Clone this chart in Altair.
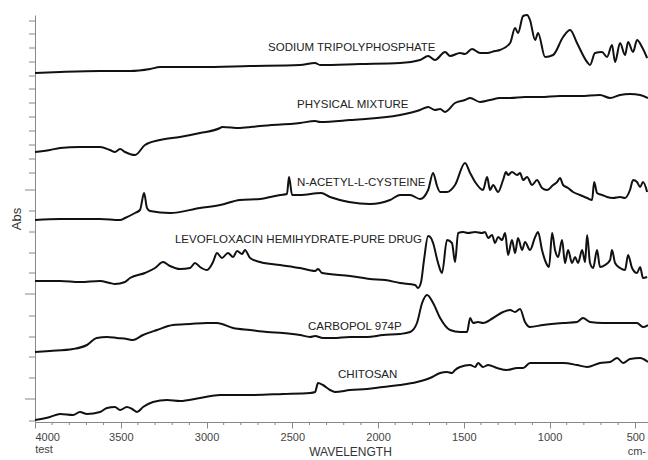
import altair as alt
import pandas as pd

# ---- data (wavenumber cm-1, stacked absorbance, arbitrary units) ----
stpp_wn = [4000, 3854, 3621, 3446, 3329, 3271, 3038, 2746, 2455, 2367, 2338, 2105, 1872, 1755, 1708, 1668,
           1609, 1580, 1522, 1493, 1452, 1405, 1364, 1318, 1289, 1230, 1201, 1184, 1154, 1131, 1114, 1084,
           1067, 1026, 979, 921, 880, 840, 781, 764, 735, 694, 665, 636, 618, 589, 560, 542, 513, 490, 461, 431]
stpp_abs = [3.49, 3.50, 3.51, 3.51, 3.53, 3.55, 3.55, 3.56, 3.57, 3.59, 3.57, 3.58, 3.59, 3.62, 3.66, 3.62,
            3.70, 3.66, 3.69, 3.68, 3.73, 3.69, 3.69, 3.71, 3.72, 3.79, 3.94, 3.89, 4.06, 4.07, 4.02, 3.82,
            3.89, 3.65, 3.67, 3.85, 3.92, 3.79, 3.60, 3.57, 3.69, 3.70, 3.65, 3.77, 3.60, 3.79, 3.67, 3.80,
            3.70, 3.82, 3.75, 3.64]

pm_wn = [4000, 3913, 3854, 3738, 3621, 3563, 3534, 3504, 3475, 3417, 3359, 3271, 3155, 3038, 2921, 2910,
         2805, 2688, 2455, 2367, 2338, 2163, 1872, 1755, 1708, 1668, 1638, 1609, 1551, 1493, 1463, 1405,
         1347, 1289, 1230, 1143, 1055, 939, 822, 706, 647, 589, 531, 472, 426]
pm_abs = [2.70, 2.72, 2.74, 2.75, 2.75, 2.72, 2.70, 2.73, 2.70, 2.67, 2.77, 2.82, 2.85, 2.89, 2.94, 2.95,
          2.94, 2.96, 2.99, 3.01, 3.00, 3.02, 3.07, 3.12, 3.15, 3.12, 3.13, 3.10, 3.19, 3.22, 3.24, 3.20,
          3.22, 3.24, 3.24, 3.25, 3.25, 3.26, 3.26, 3.27, 3.24, 3.27, 3.28, 3.27, 3.24]

nac_wn = [4000, 3854, 3621, 3504, 3475, 3417, 3388, 3364, 3347, 3329, 3213, 3038, 2921, 2805, 2688, 2571,
          2531, 2519, 2501, 2455, 2332, 2280, 2047, 1930, 1872, 1813, 1755, 1708, 1679, 1656, 1638, 1598,
          1551, 1493, 1463, 1434, 1388, 1364, 1347, 1329, 1300, 1271, 1254, 1242, 1219, 1189, 1172, 1154,
          1131, 1102, 1073, 1044, 1015, 979, 956, 939, 921, 892, 863, 822, 781, 752, 740, 723, 694, 665,
          630, 589, 560, 531, 513, 490, 472, 455, 431]
nac_abs = [2.02, 2.03, 2.03, 2.02, 2.04, 2.09, 2.12, 2.29, 2.14, 2.11, 2.09, 2.14, 2.17, 2.22, 2.23, 2.27,
           2.28, 2.45, 2.27, 2.27, 2.29, 2.25, 2.18, 2.22, 2.27, 2.27, 2.23, 2.32, 2.49, 2.36, 2.30, 2.30,
           2.37, 2.59, 2.49, 2.40, 2.32, 2.45, 2.32, 2.37, 2.30, 2.42, 2.50, 2.47, 2.50, 2.47, 2.49, 2.42,
           2.45, 2.37, 2.42, 2.34, 2.32, 2.37, 2.40, 2.44, 2.37, 2.34, 2.30, 2.27, 2.24, 2.22, 2.40, 2.29,
           2.27, 2.25, 2.24, 2.25, 2.24, 2.32, 2.42, 2.40, 2.35, 2.40, 2.30]

levo_wn = [4000, 3854, 3738, 3621, 3563, 3534, 3475, 3446, 3359, 3300, 3254, 3213, 3155, 3096, 3067, 3038,
           2997, 2962, 2939, 2910, 2875, 2845, 2822, 2793, 2776, 2746, 2688, 2571, 2455, 2367, 2350, 2326,
           2163, 2047, 1959, 1872, 1784, 1767, 1749, 1732, 1708, 1691, 1679, 1650, 1627, 1598, 1569, 1551,
           1533, 1504, 1475, 1434, 1394, 1376, 1358, 1335, 1318, 1300, 1277, 1259, 1242, 1219, 1201, 1184,
           1160, 1143, 1114, 1084, 1067, 1044, 1020, 1003, 985, 968, 950, 927, 910, 892, 869, 851, 834, 810,
           793, 781, 764, 746, 723, 706, 676, 647, 636, 618, 589, 560, 542, 519, 490, 472, 455, 431]
levo_abs = [1.41, 1.41, 1.40, 1.41, 1.39, 1.38, 1.40, 1.44, 1.49, 1.54, 1.60, 1.56, 1.53, 1.54, 1.59, 1.55,
            1.52, 1.60, 1.69, 1.64, 1.69, 1.65, 1.71, 1.68, 1.72, 1.64, 1.60, 1.57, 1.54, 1.51, 1.53, 1.49,
            1.46, 1.43, 1.42, 1.39, 1.37, 1.34, 1.40, 1.62, 1.86, 1.84, 1.79, 1.59, 1.49, 1.82, 1.79, 1.60,
            1.89, 1.90, 1.89, 1.90, 1.89, 1.90, 1.84, 1.87, 1.79, 1.85, 1.82, 1.89, 1.67, 1.82, 1.69, 1.84,
            1.72, 1.80, 1.72, 1.85, 1.90, 1.72, 1.59, 1.55, 1.89, 1.72, 1.65, 1.82, 1.59, 1.72, 1.59, 1.65,
            1.59, 1.72, 1.60, 1.87, 1.59, 1.54, 1.72, 1.55, 1.57, 1.62, 1.72, 1.59, 1.54, 1.52, 1.67, 1.54,
            1.49, 1.55, 1.44, 1.45]

carb_wn = [4000, 3913, 3778, 3697, 3640, 3580, 3522, 3464, 3429, 3370, 3289, 3195, 3096, 2997, 2939, 2845,
           2746, 2647, 2554, 2455, 2396, 2367, 2321, 2262, 2163, 2064, 1971, 1872, 1813, 1773, 1743, 1714,
           1679, 1638, 1580, 1522, 1481, 1463, 1446, 1417, 1388, 1329, 1271, 1230, 1201, 1172, 1143, 1114,
           1038, 921, 840, 805, 764, 688, 589, 490, 455, 426]
carb_abs = [0.70, 0.71, 0.73, 0.77, 0.84, 0.85, 0.84, 0.83, 0.82, 0.87, 0.92, 0.97, 0.98, 0.99, 0.99, 0.94,
            0.92, 0.90, 0.89, 0.87, 0.85, 0.86, 0.84, 0.84, 0.85, 0.85, 0.87, 0.88, 0.90, 0.99, 1.19, 1.27,
            1.19, 1.04, 0.92, 0.90, 0.90, 1.04, 0.99, 1.00, 0.99, 1.04, 1.10, 1.12, 1.10, 1.13, 1.00, 0.95,
            0.97, 0.99, 1.00, 1.04, 1.00, 0.99, 0.99, 0.99, 0.95, 0.97]

chit_wn = [4000, 3913, 3854, 3778, 3738, 3697, 3621, 3580, 3534, 3504, 3464, 3434, 3405, 3370, 3312, 3230,
           3155, 3038, 2921, 2746, 2554, 2396, 2367, 2350, 2321, 2280, 2251, 2163, 2064, 1971, 1872, 1773,
           1697, 1638, 1598, 1569, 1551, 1522, 1463, 1434, 1417, 1388, 1358, 1306, 1248, 1189, 1154, 1114,
           1055, 979, 921, 840, 781, 706, 647, 606, 571, 531, 472, 426]
chit_abs = [0.02, 0.05, 0.08, 0.07, 0.10, 0.08, 0.10, 0.14, 0.15, 0.12, 0.15, 0.13, 0.10, 0.15, 0.20, 0.22,
            0.21, 0.24, 0.27, 0.27, 0.28, 0.29, 0.30, 0.39, 0.37, 0.32, 0.30, 0.32, 0.33, 0.35, 0.37, 0.40,
            0.44, 0.49, 0.50, 0.49, 0.52, 0.55, 0.57, 0.55, 0.59, 0.55, 0.57, 0.54, 0.52, 0.54, 0.54, 0.59,
            0.59, 0.59, 0.59, 0.57, 0.55, 0.59, 0.60, 0.64, 0.59, 0.63, 0.64, 0.60]

label_text = ["SODIUM TRIPOLYPHOSPHATE", "PHYSICAL MIXTURE", "N-ACETYL-L-CYSTEINE",
              "LEVOFLOXACIN HEMIHYDRATE-PURE DRUG", "CARBOPOL 974P", "CHITOSAN"]
label_wn = [2641, 2472, 2472, 3184, 2408, 2233]
label_abs = [3.74, 3.17, 2.39, 1.82, 0.95, 0.47]

x_major = [4000, 3500, 3000, 2500, 2000, 1500, 1000, 500]
x_minor = [v for v in range(500, 4001, 100) if v % 500 != 0]
y_ticks_minor = [4.01, 3.88, 3.74, 3.60, 3.46, 3.33, 3.19, 3.05, 2.91, 2.77, 2.63, 2.49, 2.11,
                 1.90, 1.69, 1.49, 1.06, 0.85, 0.65, 0.44, 0.01]
y_ticks_major = [2.32, 1.28, 0.23]

# ---- build tables ----
rows = []
for name, wn, ab in [("stpp", stpp_wn, stpp_abs), ("pm", pm_wn, pm_abs), ("nac", nac_wn, nac_abs),
                     ("levo", levo_wn, levo_abs), ("carb", carb_wn, carb_abs), ("chit", chit_wn, chit_abs)]:
    for w, a in zip(wn, ab):
        rows.append({"compound": name, "wn": w, "abs": a})
df = pd.DataFrame(rows)
lab_df = pd.DataFrame({"label": label_text, "wn": label_wn, "abs": label_abs})
minor_df = pd.DataFrame({"wn": x_minor})
ymin_df = pd.DataFrame({"abs": y_ticks_minor})
ymaj_df = pd.DataFrame({"abs": y_ticks_major})

xscale = alt.Scale(domain=[426, 4000], reverse=True, nice=False, zero=False)
yscale = alt.Scale(domain=[0, 4.07], nice=False, zero=False)
AX = "#888888"

lines = alt.Chart(df).mark_line(color="#111111", strokeWidth=2, clip=False,
                                interpolate="monotone").encode(
    x=alt.X("wn:Q", scale=xscale,
            axis=alt.Axis(values=x_major, format="d", title="WAVELENGTH", grid=False,
                          tickSize=6, labelFontSize=11, labelColor="#444444", labelFont="Liberation Sans",
                          labelPadding=3, domainColor=AX, tickColor=AX,
                          titleFont="Liberation Sans", titleFontSize=12, titleFontWeight="normal",
                          titleColor="#333333", titleX=315, titleY=24)),
    y=alt.Y("abs:Q", scale=yscale,
            axis=alt.Axis(labels=False, ticks=False, grid=False, title="Abs",
                          titleFont="Liberation Sans", titleFontSize=13, titleFontWeight="normal",
                          titleColor="#333333", titlePadding=12, domainColor=AX)),
    detail="compound:N",
)

labels = alt.Chart(lab_df).mark_text(align="left", baseline="middle", font="Liberation Sans",
                                     fontSize=11.5, color="#222222").encode(
    x=alt.X("wn:Q", scale=xscale), y=alt.Y("abs:Q", scale=yscale), text="label:N")

xminor = alt.Chart(minor_df).mark_rule(color=AX, strokeWidth=1).encode(
    x=alt.X("wn:Q", scale=xscale), y=alt.value(407), y2=alt.value(410))

yminor = alt.Chart(ymin_df).mark_rule(color=AX, strokeWidth=1).encode(
    y=alt.Y("abs:Q", scale=yscale), x=alt.value(-6), x2=alt.value(0))

ymajor = alt.Chart(ymaj_df).mark_rule(color=AX, strokeWidth=1).encode(
    y=alt.Y("abs:Q", scale=yscale), x=alt.value(-10), x2=alt.value(0))

test_txt = alt.Chart(pd.DataFrame({"t": ["test"]})).mark_text(
    align="center", baseline="middle", font="Liberation Sans", fontSize=11, color="#444444").encode(
    x=alt.value(9), y=alt.value(435), text="t:N")

cm_txt = alt.Chart(pd.DataFrame({"t": ["cm-"]})).mark_text(
    align="right", baseline="middle", font="Liberation Sans", fontSize=11, color="#444444").encode(
    x=alt.value(611), y=alt.value(437), text="t:N")

chart = alt.layer(lines, xminor, yminor, ymajor, labels, test_txt, cm_txt).properties(
    width=613, height=407,
    padding={"left": 35, "top": 15, "right": 0, "bottom": 38},
    autosize=alt.AutoSizeParams(type="none"),
    background="white",
).configure_view(stroke=None)

chart.save("out.html", embed_options={"renderer": "svg", "actions": False})
